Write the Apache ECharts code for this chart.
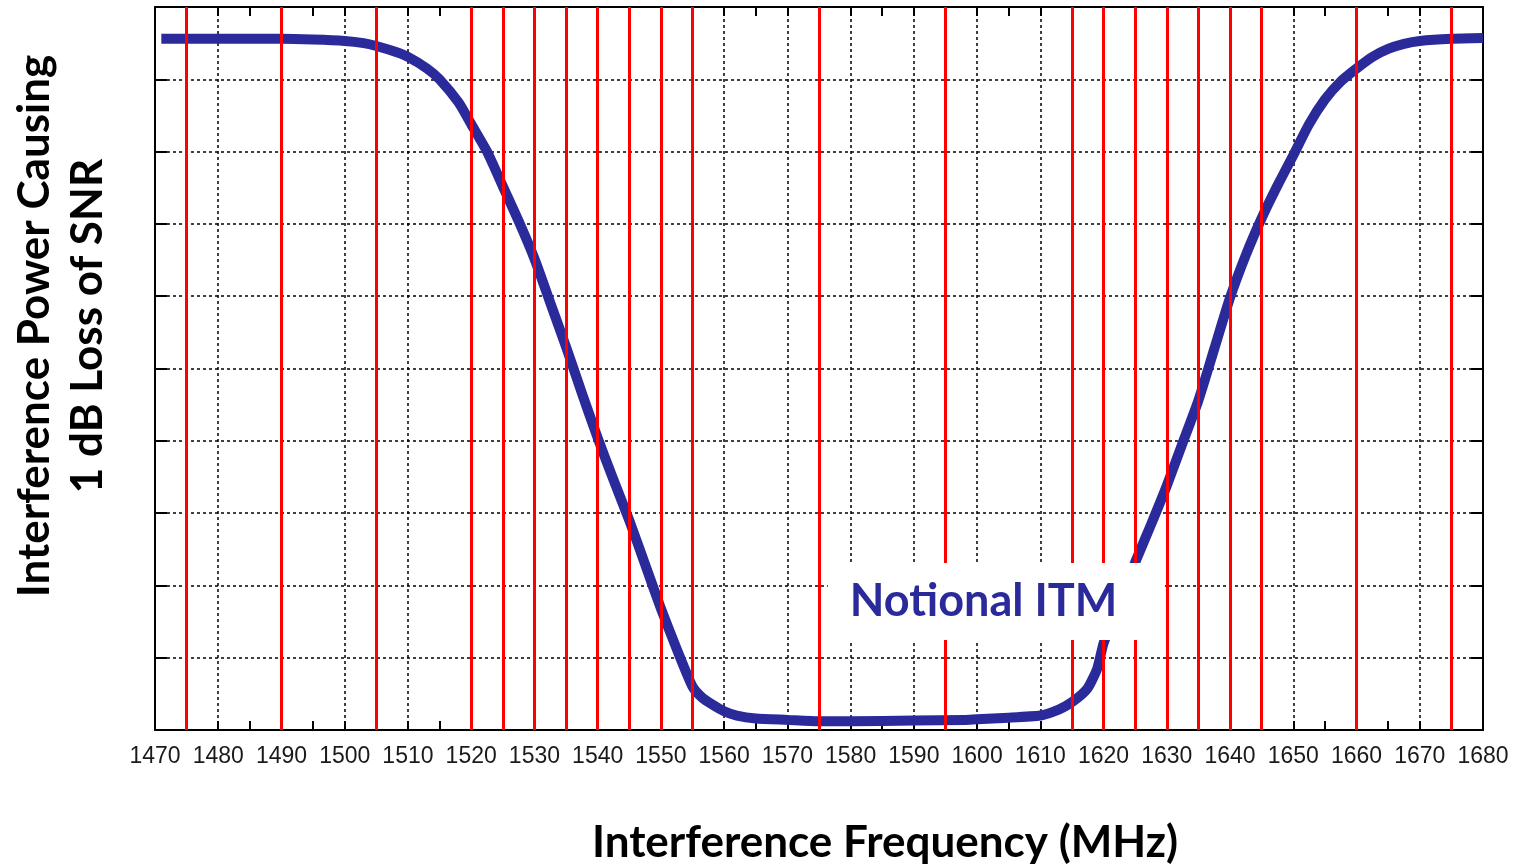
<!DOCTYPE html>
<html>
<head>
<meta charset="utf-8">
<title>Interference Frequency Response</title>
<script src="https://cdn.jsdelivr.net/npm/echarts@6/dist/echarts.min.js"></script>
<style>
  html, body { margin: 0; padding: 0; background: #ffffff; }
  #chart { width: 1520px; height: 867px; }
</style>
</head>
<body>
<div id="chart"></div>
<script>
// Interference frequency (MHz) sampled along the ITM curve
const freqMHz = [
  1471, 1480, 1490, 1495, 1500, 1503, 1505, 1508, 1510, 1513, 1515, 1518,
  1520, 1522.5, 1525, 1527.5, 1530, 1532.5, 1535, 1537.5, 1540, 1542.5,
  1545, 1547.5, 1550, 1552.5, 1555, 1556.5, 1558, 1560, 1562, 1565, 1570,
  1575, 1580, 1590, 1598, 1600, 1605, 1610, 1612, 1614, 1616, 1617.5, 1619,
  1620, 1622.5, 1625, 1627.5, 1630, 1632.5, 1635, 1637.5, 1640, 1642.5,
  1645, 1647.5, 1650, 1652.5, 1655, 1657.5, 1660, 1662.5, 1665, 1667.5,
  1670, 1675, 1680
];
// Interference power causing 1 dB SNR loss (relative grid units, 0..10)
const itmPower = [
  9.56, 9.56, 9.56, 9.55, 9.53, 9.50, 9.46, 9.38, 9.31, 9.15, 9.00, 8.68,
  8.38, 8.00, 7.52, 7.04, 6.52, 5.91, 5.30, 4.66, 4.04, 3.46,
  2.90, 2.29, 1.68, 1.12, 0.60, 0.45, 0.36, 0.26, 0.20, 0.16, 0.14,
  0.12, 0.12, 0.13, 0.14, 0.15, 0.17, 0.20, 0.25, 0.33, 0.45, 0.58, 0.85,
  1.20, 1.76, 2.32, 2.84, 3.38, 3.97, 4.56, 5.27, 5.98, 6.57,
  7.08, 7.53, 7.95, 8.38, 8.72, 8.97, 9.15, 9.31, 9.42, 9.49,
  9.53, 9.56, 9.57
];
// Frequencies of the red reference markers (MHz)
const markerFreqs = [
  1475, 1490, 1505, 1520, 1525, 1530, 1535, 1540, 1545, 1550, 1555,
  1575, 1595, 1615, 1620, 1625, 1630, 1635, 1640, 1645, 1660, 1675
];
// Callout label and its box extent in data units [x0, y0, x1, y1]
const calloutText = 'Notional ITM';
const calloutBox = [1576.4, 2.31, 1629.7, 1.245];

const xMin = 1470, xMax = 1680, xStep = 10;
const yMin = 0, yMax = 10, yStep = 1;

const chart = echarts.init(document.getElementById('chart'), null, { renderer: 'canvas' });

const gridLine = { show: true, lineStyle: { color: '#000000', width: 1.5, type: [3, 3] } };
const axisLineBlack = { show: true, onZero: false, lineStyle: { color: '#000000', width: 2 } };

const option = {
  animation: false,
  backgroundColor: '#ffffff',
  grid: { left: 155, right: 37, top: 7, bottom: 137, containLabel: false },
  xAxis: [
    {
      type: 'value', min: xMin, max: xMax, interval: xStep, position: 'bottom',
      axisLine: axisLineBlack,
      axisTick: { show: true, inside: true, length: 9, lineStyle: { color: '#000', width: 2 } },
      minorTick: { show: true, splitNumber: 2, length: 9, lineStyle: { color: '#000', width: 2 } },
      axisLabel: {
        show: true, margin: 15, color: '#1a1a1a',
        fontFamily: 'Liberation Sans, Arial, sans-serif', fontSize: 23,
        formatter: v => String(v)
      },
      splitLine: gridLine
    },
    {
      type: 'value', min: xMin, max: xMax, interval: xStep, position: 'top',
      axisLine: axisLineBlack,
      axisTick: { show: true, inside: true, length: 9, lineStyle: { color: '#000', width: 2 } },
      minorTick: { show: true, splitNumber: 2, length: 9, lineStyle: { color: '#000', width: 2 } },
      axisLabel: { show: false },
      splitLine: { show: false }
    }
  ],
  yAxis: [
    {
      type: 'value', min: yMin, max: yMax, interval: yStep, position: 'left',
      axisLine: axisLineBlack,
      axisTick: { show: true, inside: true, length: 12, lineStyle: { color: '#000', width: 2 } },
      axisLabel: { show: false },
      splitLine: gridLine
    },
    {
      type: 'value', min: yMin, max: yMax, interval: yStep, position: 'right',
      axisLine: axisLineBlack,
      axisTick: { show: true, inside: true, length: 12, lineStyle: { color: '#000', width: 2 } },
      axisLabel: { show: false },
      splitLine: { show: false }
    }
  ],
  series: [
    {
      name: 'markers',
      type: 'line',
      data: [],
      z: 2,
      silent: true,
      markLine: {
        silent: true,
        symbol: ['none', 'none'],
        label: { show: false },
        lineStyle: { color: '#ff0000', width: 3, type: 'solid' },
        data: markerFreqs.map(f => ({ xAxis: f }))
      }
    },
    {
      name: 'ITM',
      type: 'line',
      data: freqMHz.map((f, i) => [f, itmPower[i]]),
      z: 3,
      smooth: 0.2,
      showSymbol: false,
      symbol: 'none',
      lineStyle: { color: '#2b2a9b', width: 10, cap: 'butt', join: 'round' }
    },
    {
      // white callout box, layered above the curve and markers
      name: 'callout',
      type: 'line',
      data: [],
      zlevel: 1,
      z: 10,
      silent: true,
      markArea: {
        silent: true,
        zlevel: 1,
        z: 20,
        itemStyle: { color: '#ffffff', opacity: 1 },
        label: {
          show: true,
          position: 'insideLeft',
          distance: 22,
          color: '#2b2a9b',
          fontFamily: 'Lato, sans-serif',
          fontWeight: 'bold',
          fontSize: 45
        },
        data: [[
          { name: calloutText, coord: [calloutBox[0], calloutBox[1]] },
          { coord: [calloutBox[2], calloutBox[3]] }
        ]]
      }
    }
  ],
  graphic: [
    {
      type: 'text',
      x: 885, y: 843,
      style: {
        text: 'Interference Frequency (MHz)',
        fontFamily: 'Lato, sans-serif', fontWeight: 'bold', fontSize: 44,
        fill: '#000000', align: 'center', verticalAlign: 'middle'
      }
    },
    {
      type: 'text',
      x: 61, y: 326,
      rotation: Math.PI / 2,
      style: {
        text: 'Interference Power Causing\n1 dB Loss of SNR',
        fontFamily: 'Lato, sans-serif', fontWeight: 'bold', fontSize: 44,
        lineHeight: 53,
        fill: '#000000', align: 'center', verticalAlign: 'middle'
      }
    }
  ]
};

chart.setOption(option);
</script>
</body>
</html>
